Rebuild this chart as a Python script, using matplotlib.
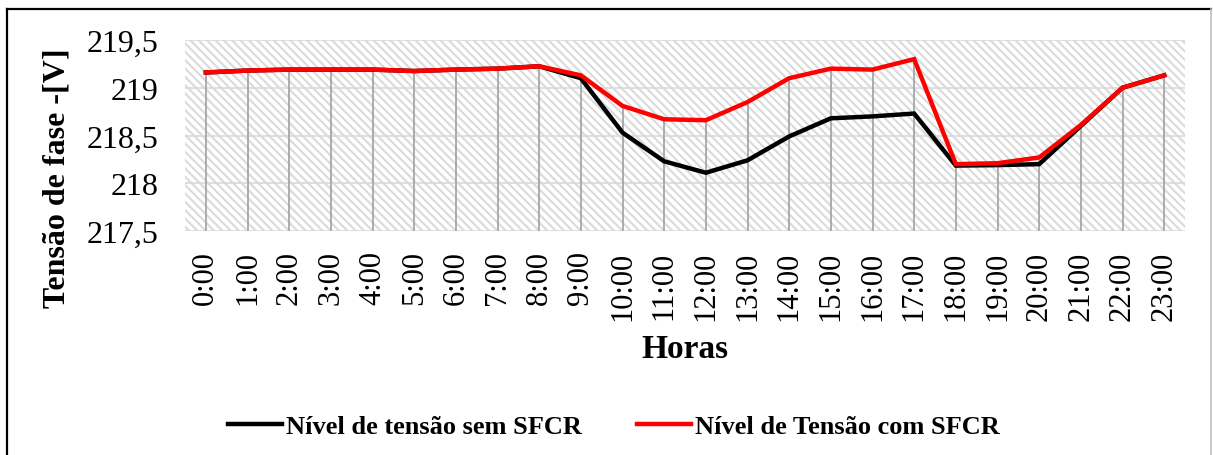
import numpy as np
import matplotlib
matplotlib.use("Agg")
import matplotlib.pyplot as plt
from matplotlib.patches import Rectangle
from matplotlib.lines import Line2D
from matplotlib.ticker import FixedLocator, FixedFormatter

# ---- data ----
horas = [f"{h}:00" for h in range(24)]
sem_sfcr = [219.16, 219.18, 219.19, 219.19, 219.19, 219.175, 219.19, 219.20,
            219.225, 219.10, 218.53, 218.23, 218.11, 218.24, 218.49, 218.68,
            218.70, 218.73, 218.185, 218.19, 218.20, 218.60, 219.00, 219.13]
com_sfcr = [219.16, 219.18, 219.19, 219.19, 219.19, 219.175, 219.19, 219.20,
            219.225, 219.13, 218.81, 218.67, 218.66, 218.85, 219.10, 219.20,
            219.19, 219.30, 218.20, 218.21, 218.27, 218.61, 219.00, 219.13]
y_ticks = [217.5, 218.0, 218.5, 219.0, 219.5]
y_tick_labels = ["217,5", "218", "218,5", "219", "219,5"]

plt.rcParams["font.family"] = ["Liberation Serif", "DejaVu Serif"]
plt.rcParams["hatch.linewidth"] = 1.5

W, H = 1213, 456
fig = plt.figure(figsize=(W / 100, H / 100), dpi=100)
ax = fig.add_axes([185 / W, 1 - 232 / H, 1000 / W, 191 / H])

x = np.arange(len(horas))
ymin, ymax = y_ticks[0], y_ticks[-1]

# hatched plot-area background
ax.set_facecolor("white")
ax.add_patch(Rectangle((0, 0), 1, 1, transform=ax.transAxes, facecolor="white",
                       edgecolor="#DADADA", hatch="\\\\\\\\", linewidth=0, zorder=0))

# horizontal gridlines
for yv in y_ticks:
    ax.axhline(yv, color="#D9D9D9", lw=1.2, zorder=1)

# drop lines from the upper series to the axis
top = np.maximum(np.array(sem_sfcr), np.array(com_sfcr))
ax.vlines(x, ymin, top, color="#A6A6A6", lw=1.3, zorder=2)

l1, = ax.plot(x, sem_sfcr, color="black", lw=3.2, zorder=3,
              solid_joinstyle="miter", label="Nível de tensão sem SFCR")
l2, = ax.plot(x, com_sfcr, color="#FF0000", lw=3.2, zorder=4,
              solid_joinstyle="miter", label="Nível de Tensão com SFCR")

ax.set_xlim(-0.5, len(horas) - 0.5)
ax.set_ylim(ymin, ymax)
ax.yaxis.set_major_locator(FixedLocator(y_ticks))
ax.yaxis.set_major_formatter(FixedFormatter(y_tick_labels))
ax.set_xticks(x)
ax.set_xticklabels(horas, rotation=90, va="top", ha="center")
ax.tick_params(axis="both", length=0, labelsize=22)
ax.tick_params(axis="y", labelsize=23)
ax.tick_params(axis="x", pad=14)
ax.tick_params(axis="y", pad=19)
for s in ax.spines.values():
    s.set_visible(False)

# axis titles
fig.text(57 / W, 1 - 178 / H, "Tensão de fase -[V]", rotation=90,
         ha="center", va="center", fontsize=23, fontweight="bold")
fig.text(685 / W, 1 - 350 / H, "Horas", ha="center", va="center",
         fontsize=24, fontweight="bold")

# legend
fig.legend(handles=[l1, l2], loc="center", bbox_to_anchor=(614 / W, 1 - 427 / H),
           ncol=2, frameon=False, prop={"weight": "bold", "size": 19},
           handlelength=2.05, handletextpad=0.15, columnspacing=2.1)

# chart border
fig.add_artist(Line2D([7 / W, 7 / W], [0, 1 - 10 / H], transform=fig.transFigure,
                      color="black", lw=1.6))
fig.add_artist(Line2D([7 / W, 1211 / W], [1 - 10 / H, 1 - 10 / H],
                      transform=fig.transFigure, color="black", lw=1.6))
fig.add_artist(Line2D([1211 / W, 1211 / W], [0, 1 - 10 / H],
                      transform=fig.transFigure, color="#BFBFBF", lw=1.2))

fig.savefig("out.png", dpi=100)
